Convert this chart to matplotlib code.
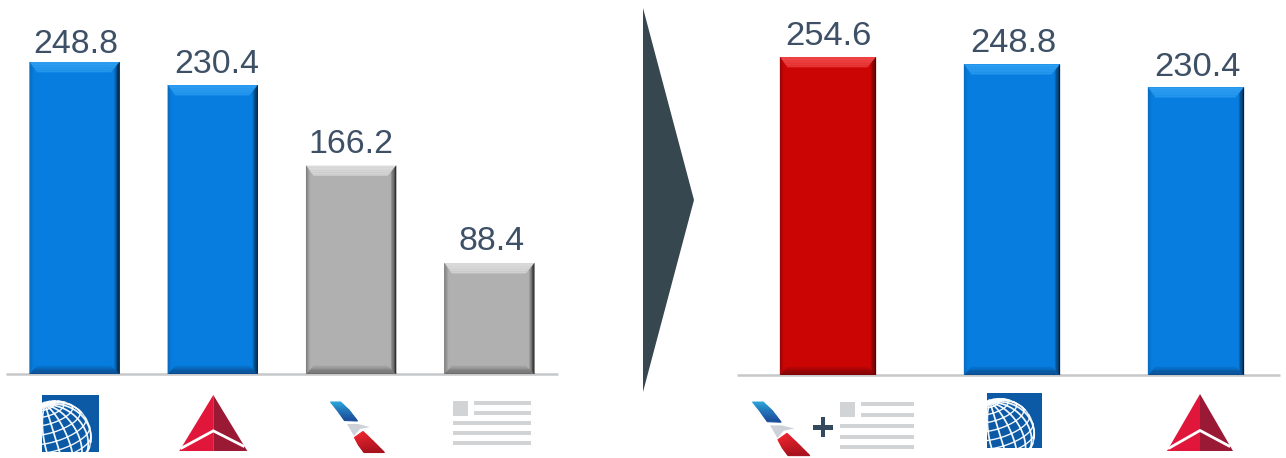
import numpy as np
import matplotlib
matplotlib.use("Agg")
import matplotlib.pyplot as plt
from matplotlib.colors import to_rgb
from matplotlib.patches import Polygon, Rectangle, Circle

# Revenue by carrier, before and after the merger
before_carriers = ["United", "Delta", "American", "US Airways"]
before_values = [248.8, 230.4, 166.2, 88.4]
before_styles = ["blue", "blue", "gray", "gray"]

after_carriers = ["American + US Airways", "United", "Delta"]
after_values = [254.6, 248.8, 230.4]
after_styles = ["red", "blue", "blue"]

W, H = 1286, 458
TEXT = "#3d5066"
BASE = "#c6c8ca"

# face, top, left, right, bottom edge colours of the bevelled bars
PALETTE = {
    "blue": ("#067ddf", "#2f9ff2", "#0a6cc0", "#06203a", "#0b4c8c"),
    "gray": ("#b0b0b0", "#dedede", "#7c7c7c", "#303030", "#6e6e6e"),
    "red": ("#cb0404", "#f24a4a", "#9c0606", "#4a0808", "#7c0404"),
}
BEVEL = dict(top=10, left=7, right=8, bottom=8)

fig = plt.figure(figsize=(W / 100, H / 100), dpi=100, facecolor="white")
plt.rcParams["font.family"] = ["Liberation Sans", "DejaVu Sans"]


def pixel_axes(x0, x1, y_top, y_bottom, **kw):
    return fig.add_axes([x0 / W, 1 - y_bottom / H, (x1 - x0) / W, (y_bottom - y_top) / H], **kw)


def mix(a, b, t):
    a, b = np.array(to_rgb(a)), np.array(to_rgb(b))
    return tuple(a + (b - a) * t)


def bevel(ax, bar, style, sx, sy):
    """Paint mitred gradient edges on a bar; sx, sy are data units per pixel."""
    face, top, left, right, bottom = PALETTE[style]
    x0, x1 = bar.get_x(), bar.get_x() + bar.get_width()
    y0, y1 = 0, bar.get_height()
    steps = 6

    def box(f):
        return (x0 + BEVEL["left"] * f * sx, x1 - BEVEL["right"] * f * sx,
                y0 + BEVEL["bottom"] * f * sy, y1 - BEVEL["top"] * f * sy)

    for i in range(steps):
        a0, a1, b0, b1 = box(i / steps)
        c0, c1, d0, d1 = box((i + 1) / steps)
        t = i / (steps - 1)
        sides = [
            ([(a0, b1), (a1, b1), (c1, d1), (c0, d1)], mix(top, mix(top, face, .3), t)),
            ([(a0, b0), (a1, b0), (c1, d0), (c0, d0)], mix(bottom, face, t ** 1.3 * .75)),
            ([(a0, b0), (a0, b1), (c0, d1), (c0, d0)], mix(left, face, min(1, t * 1.6))),
            ([(a1, b0), (a1, b1), (c1, d1), (c1, d0)], mix(right, face, min(1, t * 1.25))),
        ]
        for pts, col in sides:
            ax.add_patch(Polygon(pts, closed=True, fc=col, ec=col, lw=0.2, zorder=3))


def panel(x0, x1, baseline, px_per_unit, centers_span, bar_w, values, styles, font, nudges):
    first, spacing = centers_span
    ax = pixel_axes(x0, x1, 0, baseline)
    ax.set_xlim((x0 - first) / spacing, (x1 - first) / spacing)
    ax.set_ylim(0, baseline / px_per_unit)
    ax.patch.set_alpha(0)
    for side in ("top", "left", "right"):
        ax.spines[side].set_visible(False)
    ax.spines["bottom"].set_color(BASE)
    ax.spines["bottom"].set_linewidth(1.8)
    ax.spines["bottom"].set_capstyle("butt")
    ax.set_xticks([])
    ax.set_yticks([])
    xs = np.arange(len(values))
    bars = ax.bar(xs, values, width=bar_w / spacing,
                  color=[PALETTE[s][0] for s in styles], zorder=2)
    for bar, style, val, (dx, dy) in zip(bars, styles, values, nudges):
        bevel(ax, bar, style, 1 / spacing, 1 / px_per_unit)
        ax.annotate(f"{val:.1f}", (bar.get_x() + bar.get_width() / 2, val),
                    xytext=(dx * .72, 6.4 + dy * .72), textcoords="offset points",
                    ha="center", va="baseline", fontsize=font, color=TEXT)
    return ax


panel(6, 558, 374, 1.2535, (74.5, 138.3), 90, before_values, before_styles, 24.4,
      [(1.5, 0), (4, 3), (0, 4), (2, 4)])
panel(737, 1280, 375, 1.2485, (828, 184), 96, after_values, after_styles, 24.8,
      [(0.5, 3), (1, 3), (1.5, 2)])

# Overlay in pixel coordinates for the arrow and the airline marks
deco = fig.add_axes([0, 0, 1, 1], zorder=5)
deco.set_xlim(0, W)
deco.set_ylim(H, 0)
deco.axis("off")

deco.add_patch(Polygon([(643, 8), (694, 200), (643, 392)], closed=True, fc="#37474f", ec="none"))


def globe_mark(x0, y0, size):
    s = size / 57
    square = Rectangle((x0, y0), size, size, fc="#0c5aa6", ec="none")
    deco.add_patch(square)
    cx, cy, r = x0 + 13 * s, y0 + 42 * s, 36 * s

    # Orthographic sphere tipped so the pole sits close to the upper-left limb
    tip = np.radians(-22)
    spin = np.radians(17)

    def project(lat, lon):
        x = np.cos(lat) * np.sin(lon)
        y = np.sin(lat)
        z = np.cos(lat) * np.cos(lon)
        y2 = y * np.cos(tip) + z * np.sin(tip)
        z2 = -y * np.sin(tip) + z * np.cos(tip)
        sx = x * np.cos(spin) - y2 * np.sin(spin)
        sy = x * np.sin(spin) + y2 * np.cos(spin)
        px = cx + sx * r
        py = cy - sy * r
        return np.where(z2 >= 0, px, np.nan), np.where(z2 >= 0, py, np.nan)

    lat = np.linspace(-np.pi / 2, np.pi / 2, 160)
    for lon_deg in range(0, 360, 20):
        px, py = project(lat, np.full_like(lat, np.radians(lon_deg)))
        ln, = deco.plot(px, py, color="white", lw=1.25, alpha=.95)
        ln.set_clip_path(square)
    lon = np.linspace(0, 2 * np.pi, 240)
    for lat_deg in range(-75, 90, 15):
        px, py = project(np.full_like(lon, np.radians(lat_deg)), lon)
        ln, = deco.plot(px, py, color="white", lw=1.0, alpha=.95)
        ln.set_clip_path(square)
    rim = Circle((cx, cy), r, fc="none", ec="#dfeaf5", lw=1.0)
    deco.add_patch(rim)
    rim.set_clip_path(square)


def delta_mark(apex_x, top, half, height):
    bot = top + height
    mid = bot - height * 0.36
    deco.add_patch(Polygon([(apex_x, top), (apex_x - half, bot), (apex_x, bot)], fc="#e0163a", ec="none"))
    deco.add_patch(Polygon([(apex_x, top), (apex_x + half, bot), (apex_x, bot)], fc="#9a1934", ec="none"))
    deco.plot([apex_x - half * .93, apex_x, apex_x + half * .88],
              [bot - 3, mid, bot - 5], color="white", lw=2.0, solid_joinstyle="miter")


def gradient_band(edge_a, edge_b, c0, c1, steps=14):
    """Fill between two polylines, shading from c0 to c1 along their length."""
    edge_a, edge_b = np.array(edge_a, float), np.array(edge_b, float)
    ts = np.linspace(0, 1, steps + 1)
    u = np.linspace(0, 1, len(edge_a))

    def at(edge, t):
        return np.interp(t, u, edge[:, 0]), np.interp(t, u, edge[:, 1])

    for i in range(steps):
        quad = [at(edge_a, ts[i]), at(edge_b, ts[i]), at(edge_b, ts[i + 1]), at(edge_a, ts[i + 1])]
        col = mix(c0, c1, i / (steps - 1))
        deco.add_patch(Polygon(quad, fc=col, ec=col, lw=0.8))


def tail_mark(dx, dy, s=1.0):
    def P(pts):
        return [(330 + dx + (x - 330) * s, 401 + dy + (y - 401) * s) for x, y in pts]
    gradient_band(P([(330.5, 402), (337, 410), (344.5, 420.5)]),
                  P([(340.5, 402), (349, 410), (357.5, 421)]), "#2da6dc", "#1b4f9c")
    deco.add_patch(Polygon(P([(347, 424), (358, 424), (370, 427), (360, 429), (354, 436)]),
                           fc="#ced2d8", ec="none"))
    gradient_band(P([(354.5, 437.5), (358.5, 445), (364, 452.5)]),
                  P([(363, 431.5), (373, 441), (384.5, 452.5)]), "#e8232c", "#a8121f")


def doc_mark(x0, x1, y0, sq, gap_x, rows):
    col = "#d2d3d5"
    deco.add_patch(Rectangle((x0, y0), sq, sq, fc=col, ec="none"))
    for i, y in enumerate(rows):
        start = x0 + sq + gap_x if i < 2 else x0
        deco.add_patch(Rectangle((start, y), x1 - start, 4.4, fc=col, ec="none"))


globe_mark(42, 395, 57)
delta_mark(213.3, 395, 34, 56)
tail_mark(0, 0)
doc_mark(453, 531, 401, 15, 6, [401, 411, 421, 431, 441])

tail_mark(422, 0, 1.06)
deco.add_patch(Rectangle((813, 425), 20, 4.6, fc="#34495e", ec="none"))
deco.add_patch(Rectangle((820.7, 417), 4.6, 20, fc="#34495e", ec="none"))
doc_mark(840, 914, 402, 15, 6, [402, 413, 424, 435, 445])
globe_mark(987, 393, 55)
delta_mark(1200, 394, 33, 57)

fig.savefig("out.png", dpi=100, facecolor="white")
